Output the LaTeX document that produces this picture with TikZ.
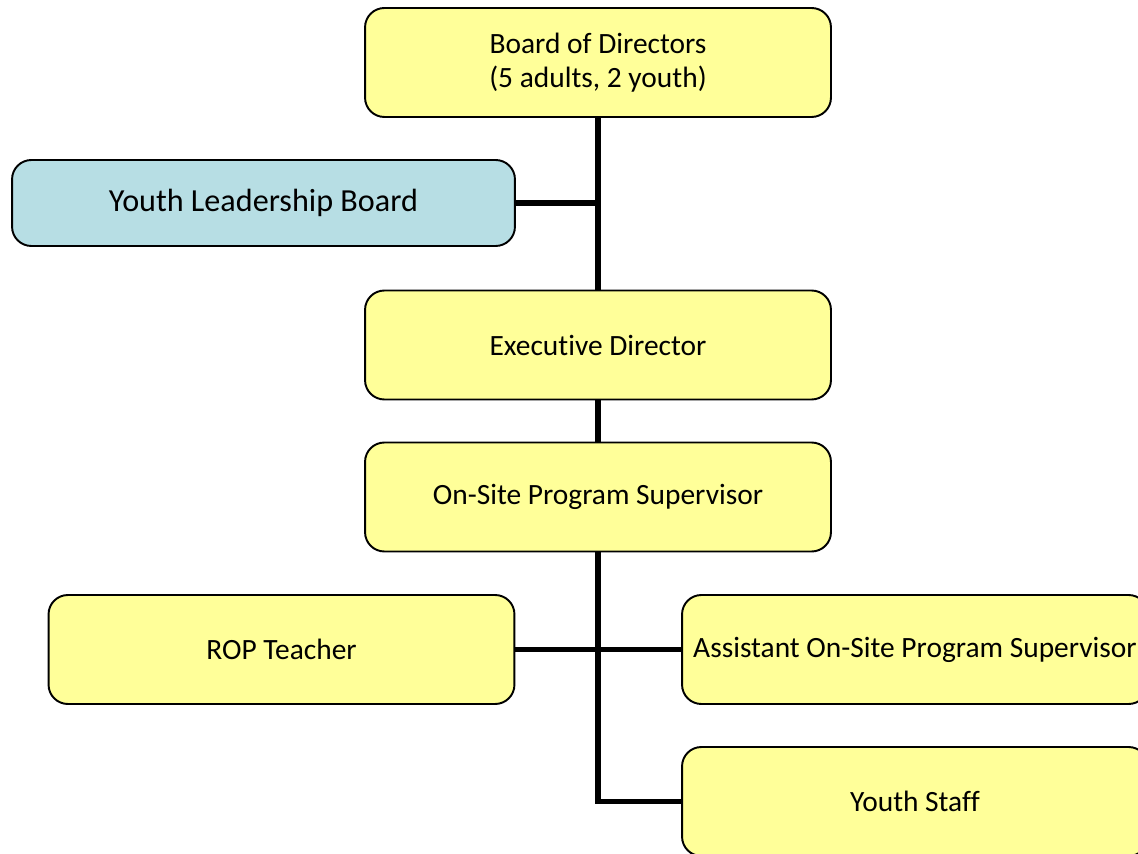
\documentclass[tikz,border=0pt]{standalone}
\usepackage{fontspec}
\setmainfont{Carlito}[Ligatures=NoCommon]
\definecolor{boxyellow}{RGB}{255,255,153}
\definecolor{boxblue}{RGB}{183,222,228}

\begin{document}
\begin{tikzpicture}[x=0.02cm, y=-0.02cm,
	box/.style={draw, line width=1.1pt, rounded corners=11pt, fill=boxyellow, minimum width=9.32cm, minimum height=2.18cm, align=center, inner sep=0pt, font=\fontsize{16.75}{19.3}\selectfont},
	link/.style={line width=3pt}]
	\useasboundingbox (0,0) rectangle (1138,854);
	\node[box] (board) at (598,62.5) {Board of Directors\\(5 adults, 2 youth)};
	\node[box, fill=boxblue, minimum width=10.06cm, minimum height=1.72cm, font=\fontsize{18.3}{20}\selectfont] (ylb) at (263.5,203) {Youth Leadership Board};
	\node[box] (exec) at (598,345) {Executive Director};
	\node[box] (site) at (598,497) {On-Site Program Supervisor};
	\node[box] (rop) at (281.5,649.5) {ROP Teacher};
	\node[box] (asst) at (915,649.5) {Assistant On-Site Program Supervisor};
	\node[box] (staff) at (915,801.5) {Youth Staff};
	% connectors
	\draw[link] (board) -- (exec);
	\draw[link] (ylb) -- (ylb -| board);
	\draw[link] (exec) -- (site);
	\draw[link] (site.south) |- (staff.west);
	\draw[link] (rop) -- (asst);
\end{tikzpicture}
\end{document}
